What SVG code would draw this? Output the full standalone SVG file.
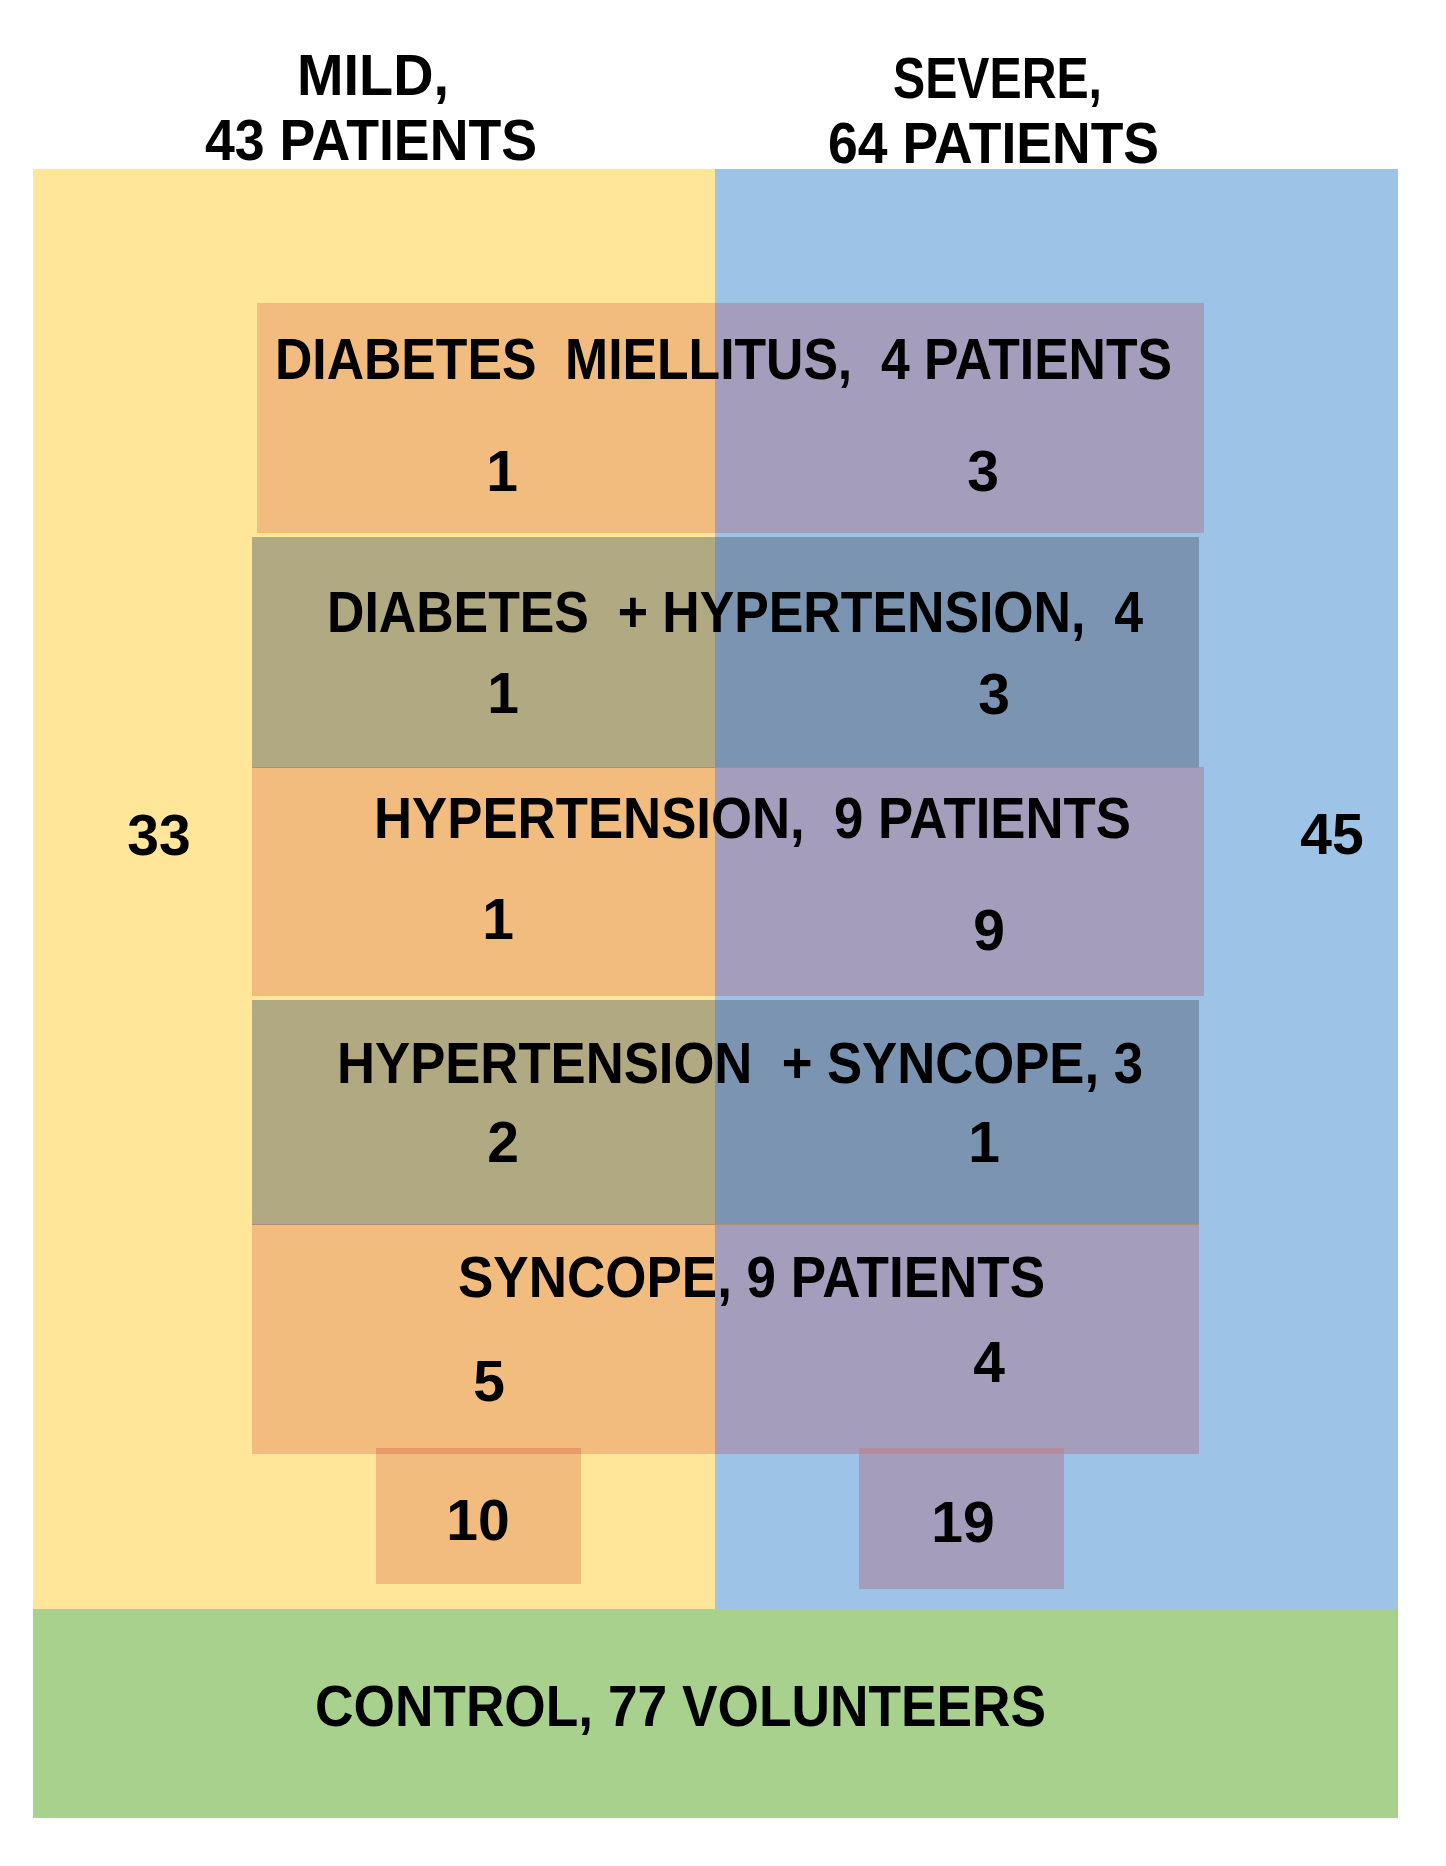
<svg xmlns="http://www.w3.org/2000/svg" width="1446" height="1866" viewBox="0 0 1446 1866">
<style>
text{font-family:"Liberation Sans",Arial,sans-serif;font-weight:bold;font-size:57px;fill:#000;white-space:pre}
.n{text-anchor:middle}
.y{fill:#FFE699}.b{fill:#9DC3E6}.g{fill:#A9D18E}
.oy{fill:#F2BC7E}.ob{fill:#A49EBC}
.dy{fill:#B1A982}.db{fill:#7A94B2}
.sy{fill:#E89A6A}.sb{fill:#B38A9E}
</style>
<rect width="1446" height="1866" fill="#fff"/>
<g id="mild">
<rect class="y" x="33" y="169" width="682" height="1440"/>
<text x="297" y="95" textLength="152" lengthAdjust="spacingAndGlyphs">MILD,</text>
<text x="205" y="160" textLength="332" lengthAdjust="spacingAndGlyphs">43 PATIENTS</text>
<text class="n" x="159" y="855">33</text>
</g>
<g id="severe">
<rect class="b" x="715" y="169" width="683" height="1440"/>
<text x="893" y="98" textLength="209" lengthAdjust="spacingAndGlyphs">SEVERE,</text>
<text x="828" y="163" textLength="331" lengthAdjust="spacingAndGlyphs">64 PATIENTS</text>
<text class="n" x="1332" y="854">45</text>
</g>
<g id="control">
<rect class="g" x="33" y="1609" width="1365" height="209"/>
<text x="315" y="1726" textLength="731" lengthAdjust="spacingAndGlyphs">CONTROL, 77 VOLUNTEERS</text>
</g>
<g id="diabetes">
<rect class="oy" x="257" y="303" width="458" height="230"/>
<rect class="ob" x="715" y="303" width="489" height="230"/>
<text x="275" y="379" textLength="897" lengthAdjust="spacingAndGlyphs">DIABETES  MIELLITUS,  4 PATIENTS</text>
<text class="n" x="502" y="491">1</text>
<text class="n" x="983" y="491">3</text>
</g>
<g id="diabetes-hypertension">
<rect class="dy" x="252" y="537" width="463" height="230"/>
<rect class="db" x="715" y="537" width="484" height="230"/>
<text x="327" y="632" textLength="816" lengthAdjust="spacingAndGlyphs">DIABETES  + HYPERTENSION,  4</text>
<text class="n" x="503" y="713">1</text>
<text class="n" x="994" y="714">3</text>
</g>
<g id="hypertension">
<rect class="oy" x="252" y="767" width="463" height="229"/>
<rect class="ob" x="715" y="767" width="489" height="229"/>
<line x1="252" y1="767.5" x2="1199" y2="767.5" stroke="#A8907E" stroke-width="1"/>
<text x="374" y="838" textLength="757" lengthAdjust="spacingAndGlyphs">HYPERTENSION,  9 PATIENTS</text>
<text class="n" x="498" y="939">1</text>
<text class="n" x="989" y="950">9</text>
</g>
<g id="hypertension-syncope">
<rect class="dy" x="252" y="1000" width="463" height="224"/>
<rect class="db" x="715" y="1000" width="484" height="224"/>
<text x="337" y="1083" textLength="806" lengthAdjust="spacingAndGlyphs">HYPERTENSION  + SYNCOPE, 3</text>
<text class="n" x="503" y="1162">2</text>
<text class="n" x="984" y="1162">1</text>
</g>
<g id="syncope">
<rect class="oy" x="252" y="1224" width="463" height="230"/>
<rect class="ob" x="715" y="1224" width="484" height="230"/>
<line x1="252" y1="1224.5" x2="1199" y2="1224.5" stroke="#A8907E" stroke-width="1"/>
<text x="458" y="1297" textLength="587" lengthAdjust="spacingAndGlyphs">SYNCOPE, 9 PATIENTS</text>
<text class="n" x="489" y="1401">5</text>
<text class="n" x="989" y="1382">4</text>
</g>
<g id="mild-only">
<rect class="oy" x="376" y="1448" width="205" height="136"/>
<rect class="sy" x="376" y="1448" width="205" height="6"/>
<text class="n" x="478" y="1540">10</text>
</g>
<g id="severe-only">
<rect class="ob" x="859" y="1448" width="205" height="141"/>
<rect class="sb" x="859" y="1448" width="205" height="6"/>
<text class="n" x="963" y="1542">19</text>
</g>
<g id="connectors"></g>
</svg>
